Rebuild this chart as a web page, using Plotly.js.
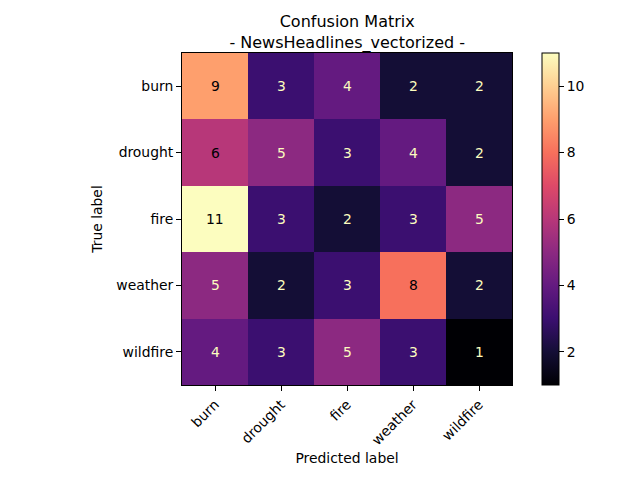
<!DOCTYPE html>
<html>
<head>
<meta charset="utf-8">
<script src="https://cdn.plot.ly/plotly-3.0.1.min.js"></script>
<style>html,body{margin:0;padding:0;background:#fff;}#chart{width:640px;height:480px;}</style>
</head>
<body>
<div id="chart"></div>
<script>
const predictedLabels = ["burn", "drought", "fire", "weather", "wildfire"];
const trueLabels = ["burn", "drought", "fire", "weather", "wildfire"];
const rowBurn = [9, 3, 4, 2, 2];
const rowDrought = [6, 5, 3, 4, 2];
const rowFire = [11, 3, 2, 3, 5];
const rowWeather = [5, 2, 3, 8, 2];
const rowWildfire = [4, 3, 5, 3, 1];
const counts = [rowBurn, rowDrought, rowFire, rowWeather, rowWildfire];
const colorbarTicks = [2, 4, 6, 8, 10];

const magma = [
  [0.0, "#000004"], [0.1, "#140e36"], [0.2, "#3b0f70"], [0.3, "#641a80"],
  [0.4, "#8c2981"], [0.5, "#b73779"], [0.6, "#de4968"], [0.7, "#f7705c"],
  [0.8, "#fe9f6d"], [0.9, "#fecf92"], [1.0, "#fcfdbf"]
];

let flat = counts.flat();
const zmin = Math.min(...flat), zmax = Math.max(...flat);
const thresh = (zmin + zmax) / 2;

const annotations = [];
counts.forEach((row, i) => row.forEach((v, j) => {
  annotations.push({
    x: predictedLabels[j], y: trueLabels[i], xref: "x", yref: "y",
    text: String(v), showarrow: false,
    font: {family: "DejaVu Sans", size: 13.9, color: v < thresh ? "#fcfdbf" : "#000004"}
  });
}));

const trace = {
  type: "heatmap", x: predictedLabels, y: trueLabels, z: counts,
  colorscale: magma, zmin: zmin, zmax: zmax, xgap: 0, ygap: 0,
  hoverinfo: "none",
  colorbar: {
    x: 1.0909, xanchor: "left", xref: "paper", y: 0.5, yanchor: "middle", len: 1, lenmode: "fraction",
    thickness: 17, thicknessmode: "pixels", outlinewidth: 1, outlinecolor: "#000",
    tickvals: colorbarTicks, ticks: "outside", ticklen: 5, tickwidth: 1, tickcolor: "#000",
    tickfont: {family: "DejaVu Sans", size: 13.9, color: "#000"}, xpad: 0, ypad: 0
  }
};

const layout = {
  width: 640, height: 480,
  margin: {l: 182, r: 128, t: 53, b: 95},
  paper_bgcolor: "#fff", plot_bgcolor: "#fff",
  title: {text: "Confusion Matrix<br>- NewsHeadlines_vectorized -", x: 0.5425, xanchor: "center",
          yref: "container", y: 0.944, yanchor: "bottom",
          font: {family: "DejaVu Sans", size: 16, color: "#000"}},
  xaxis: {
    type: "category", title: {text: "Predicted label", font: {family: "DejaVu Sans", size: 13.9, color: "#000"}, standoff: 6},
    tickangle: -45, ticks: "outside", ticklen: 5, tickcolor: "#000", tickwidth: 1,
    showline: true, linecolor: "#000", linewidth: 1, mirror: true, showgrid: false, zeroline: false,
    tickfont: {family: "DejaVu Sans", size: 13.9, color: "#000"}
  },
  yaxis: {
    type: "category", autorange: "reversed", title: {text: "True label", font: {family: "DejaVu Sans", size: 13.9, color: "#000"}, standoff: 10},
    ticks: "outside", ticklen: 5, tickcolor: "#000", tickwidth: 1,
    showline: true, linecolor: "#000", linewidth: 1, mirror: true, showgrid: false, zeroline: false,
    tickfont: {family: "DejaVu Sans", size: 13.9, color: "#000"}
  },
  annotations: annotations
};

Plotly.newPlot("chart", [trace], layout, {displayModeBar: false, staticPlot: true});
</script>
</body>
</html>
